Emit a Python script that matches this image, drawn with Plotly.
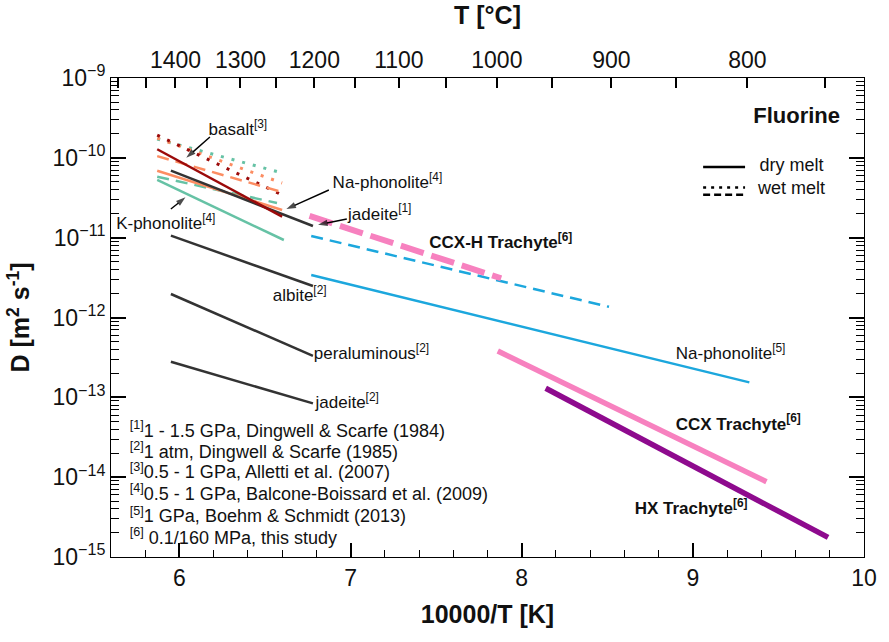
import plotly.graph_objects as go

# ---------------- data (10000/T [K], D [m^2/s]) ----------------
x_lit = [5.87, 6.60]          # Alletti / Balcone-Boissard range
x_ds = [5.95, 6.78]           # Dingwell & Scarfe range

basalt_dry_D = [1.28e-10, 1.83e-11]
basalt_wet_D = [1.93e-10, 3.42e-11]
naphon4_dry_D = [6.9e-11, 2.22e-11]
naphon4_wet1_D = [1.05e-10, 3.73e-11]
naphon4_wet2_D = [1.77e-10, 4.84e-11]
kphon4_dry_x = [5.87, 6.61]
kphon4_dry_D = [5.28e-11, 9.35e-12]
kphon4_wet1_D = [5.8e-11, 2.72e-11]
kphon4_wet2_D = [1.72e-10, 6.46e-11]
x_kphon_wet1 = [5.87, 6.57]

jadeite1_D = [6.9e-11, 1.40e-11]
albite2_D = [1.06e-11, 2.48e-12]
peral2_D = [1.97e-12, 3.3e-13]
jadeite2_D = [2.79e-13, 8.4e-14]

naphon5_wet_x = [6.77, 8.51]
naphon5_wet_D = [1.05e-11, 1.36e-12]
naphon5_dry_x = [6.77, 9.33]
naphon5_dry_D = [3.40e-12, 1.54e-13]

ccxh_x = [6.76, 7.88]
ccxh_D = [1.87e-11, 3.10e-12]
ccx_x = [7.86, 9.43]
ccx_D = [3.80e-13, 8.77e-15]
hx_x = [8.14, 9.79]
hx_D = [1.30e-13, 1.76e-15]

top_T_major = [1400, 1300, 1200, 1100, 1000, 900, 800]
top_T_all = list(range(1500, 749, -50))
bottom_ticks = [6, 7, 8, 9, 10]
y_decades = [-15, -14, -13, -12, -11, -10, -9]

refs = [
    "<sup>[1]</sup>1 - 1.5 GPa, Dingwell & Scarfe (1984)",
    "<sup>[2]</sup>1 atm, Dingwell & Scarfe (1985)",
    "<sup>[3]</sup>0.5 - 1 GPa, Alletti et al. (2007)",
    "<sup>[4]</sup>0.5 - 1 GPa, Balcone-Boissard et al. (2009)",
    "<sup>[5]</sup>1 GPa, Boehm & Schmidt (2013)",
    "<sup>[6]</sup> 0.1/160 MPa, this study",
]
ref_logy = [-13.44, -13.70, -13.96, -14.23, -14.51, -14.78]

# ---------------- style ----------------
DARKRED = "#9b0a0a"
ORANGE = "#fc8d62"
TEAL = "#66c2a5"
GRAY = "#333333"
BLUE = "#1ca7dd"
PINK = "#f781bf"
PURPLE = "#8e0a8e"
FONT = "Liberation Sans, Arial, sans-serif"

DOT = "3px,8px"
DASH = "12px,7px"

fig = go.Figure()

def line(x, y, color, width, dash="solid"):
    fig.add_trace(go.Scatter(x=x, y=y, mode="lines", showlegend=False, hoverinfo="skip",
                             line=dict(color=color, width=width, dash=dash)))

line(x_lit, kphon4_wet2_D, TEAL, 3, DOT)
line(x_lit, naphon4_wet2_D, ORANGE, 3, DOT)
line(x_lit, basalt_wet_D, DARKRED, 3, DOT)
line(x_lit, naphon4_wet1_D, ORANGE, 2.5, DASH)
line(x_kphon_wet1, kphon4_wet1_D, TEAL, 2.5, DASH)
line(x_lit, naphon4_dry_D, ORANGE, 2.5)
line(kphon4_dry_x, kphon4_dry_D, TEAL, 2.5)
line(x_ds, jadeite1_D, GRAY, 2.5)
line(x_lit, basalt_dry_D, DARKRED, 2.5)
line(x_ds, albite2_D, GRAY, 2.5)
line(x_ds, peral2_D, GRAY, 2.5)
line(x_ds, jadeite2_D, GRAY, 2.5)
line(naphon5_wet_x, naphon5_wet_D, BLUE, 2.5, DASH)
line(naphon5_dry_x, naphon5_dry_D, BLUE, 2.5)
line(ccxh_x, ccxh_D, PINK, 6, "24px,8px")
line(ccx_x, ccx_D, PINK, 5.5)
line(hx_x, hx_D, PURPLE, 5.5)

# ---------------- text labels (as text traces) ----------------
def text(t, x, logy, size=17, bold=False, pos="middle right"):
    s = f"<b>{t}</b>" if bold else t
    fig.add_trace(go.Scatter(x=[x], y=[10.0 ** logy], mode="text", text=[s],
                             textposition=pos, cliponaxis=False, showlegend=False,
                             hoverinfo="skip",
                             textfont=dict(family=FONT, size=size, color="#111")))

def arrow(x0, ly0, x1, ly1):
    fig.add_trace(go.Scatter(x=[x0, x1], y=[10.0 ** ly0, 10.0 ** ly1], mode="lines+markers",
                             showlegend=False, hoverinfo="skip", cliponaxis=False,
                             line=dict(color="black", width=1.4),
                             marker=dict(symbol=["circle", "arrow"], size=[0, 10],
                                         angleref="previous", color="black",
                                         line=dict(width=0))))

text("basalt<sup>[3]</sup>", 6.17, -9.66)
arrow(6.178, -9.739, 6.04, -10.00)
text("Na-phonolite<sup>[4]</sup>", 6.895, -10.33)
arrow(6.873, -10.403, 6.625, -10.64)
text("jadeite<sup>[1]</sup>", 6.985, -10.72)
arrow(6.978, -10.766, 6.81, -10.838)
text("K-phonolite<sup>[4]</sup>", 5.63, -10.84)
arrow(5.95, -10.641, 6.035, -10.495)
text("albite<sup>[2]</sup>", 6.545, -11.74)
text("peraluminous<sup>[2]</sup>", 6.785, -12.47)
text("jadeite<sup>[2]</sup>", 6.795, -13.08)
text("CCX-H Trachyte<sup>[6]</sup>", 7.46, -11.08, bold=True)
text("Na-phonolite<sup>[5]</sup>", 8.90, -12.47)
text("CCX Trachyte<sup>[6]</sup>", 8.90, -13.35, bold=True)
text("HX Trachyte<sup>[6]</sup>", 8.66, -14.41, bold=True)

for t, ly in zip(refs, ref_logy):
    text(t, 5.71, ly, size=18)

# legend block (in data coordinates)
text("Fluorine", 9.86, -9.49, size=22, bold=True, pos="middle left")
text("dry melt", 9.39, -10.11, size=18)
text("wet melt", 9.38, -10.40, size=18)
leg_x = [9.06, 9.305]
line(leg_x, [10 ** -10.115, 10 ** -10.115], "black", 2.5)
line(leg_x, [10 ** -10.372, 10 ** -10.372], "black", 2.5, "3px,5px")
line(leg_x, [10 ** -10.462, 10 ** -10.462], "black", 2.5, "7px,4px")

fig.add_trace(go.Scatter(x=[5.6, 10], y=[1e-15, 1e-15], xaxis="x2", mode="lines",
                         line=dict(width=0), showlegend=False, hoverinfo="skip"))

ticks_top_vals = [10000 / (t + 273.15) for t in top_T_all]
ticks_top_text = [str(t) if t in top_T_major else "" for t in top_T_all]

TICKFONT = dict(family=FONT, size=23, color="#111")
TITLEFONT = dict(family=FONT, size=25, color="#111")

fig.update_layout(
    width=889, height=642,
    margin=dict(l=111, r=25, t=78, b=85),
    plot_bgcolor="white", showlegend=False,
    xaxis=dict(range=[5.6, 10], tickmode="array", tickvals=bottom_ticks,
               gridcolor="white", zerolinecolor="white",
               showline=True, linecolor="black",
               ticks="inside", ticklen=14, tickwidth=1.5, tickcolor="black",
               minor=dict(dtick=0.2, ticks="inside", ticklen=7, tickcolor="black", tickwidth=1.2),
               tickfont=TICKFONT,
               title=dict(text="<b>10000/T [K]</b>", font=TITLEFONT)),
    xaxis2=dict(overlaying="x", side="top", range=[5.6, 10], tickmode="array",
                tickvals=ticks_top_vals, ticktext=ticks_top_text,
                gridcolor="white", zerolinecolor="white",
                showline=True, linecolor="black",
                ticks="inside", ticklen=10, tickwidth=1.5, tickcolor="black",
                tickfont=TICKFONT,
                title=dict(text="<b>T [°C]</b>", font=TITLEFONT)),
    yaxis=dict(type="log", range=[-15, -9], tickmode="array",
               tickvals=[10.0 ** d for d in y_decades],
               ticktext=[f"10<sup>−{abs(d)}</sup>" for d in y_decades],
               gridcolor="white", zerolinecolor="white",
               showline=True, linecolor="black", mirror="ticks",
               ticks="inside", ticklen=15, tickwidth=1.5, tickcolor="black",
               minor=dict(dtick="D1", ticks="inside", ticklen=8, tickcolor="black", tickwidth=1.2),
               tickfont=TICKFONT,
               title=dict(text="<b>D [m<sup>2</sup> s<sup>-1</sup>]</b>", font=TITLEFONT)),
)

fig.write_html("out.html")
